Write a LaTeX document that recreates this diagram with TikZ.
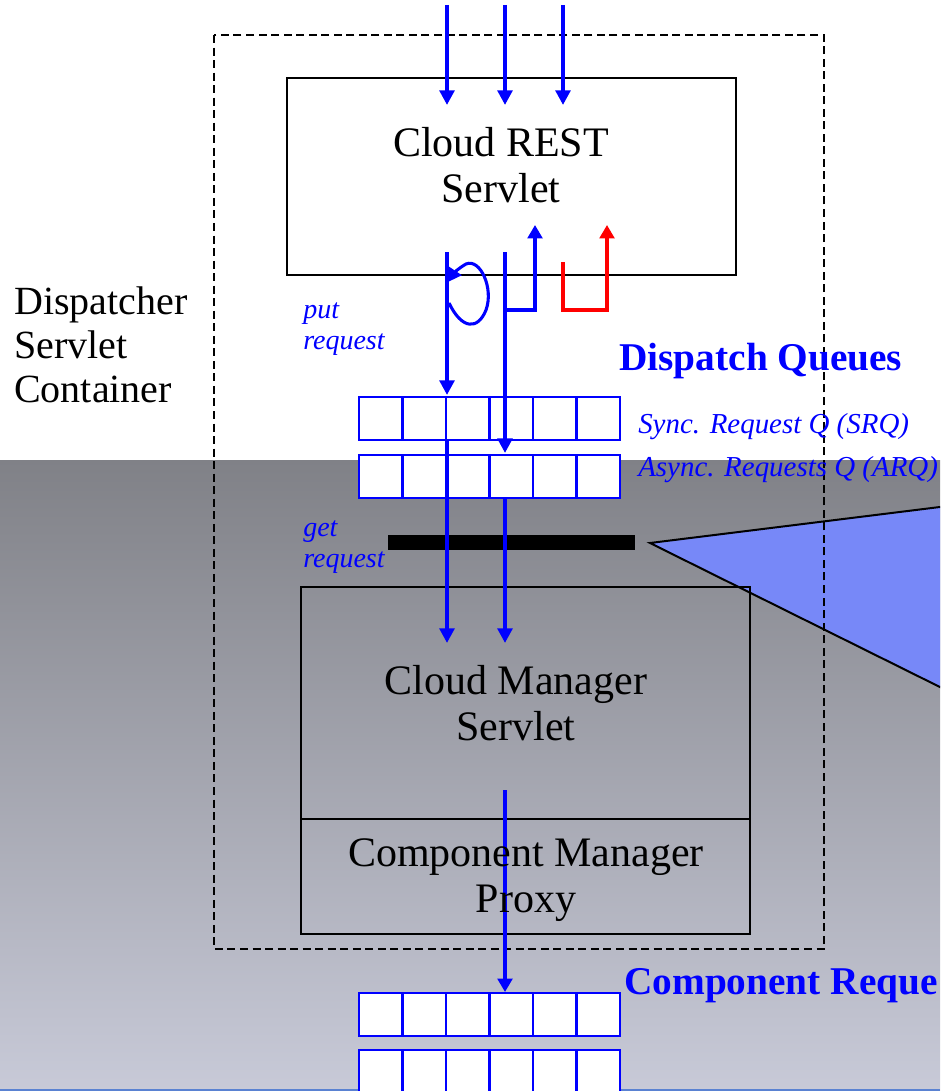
\documentclass[tikz,border=0pt]{standalone}
\usepackage{fontspec}
\setmainfont{Liberation Serif}
\usetikzlibrary{arrows.meta,calc}
\definecolor{qblue}{RGB}{0,0,255}
\definecolor{qred}{RGB}{255,0,0}
\definecolor{callout}{RGB}{119,136,248}
\definecolor{bgtop}{RGB}{128,129,135}
\definecolor{bgbot}{RGB}{200,202,216}
\definecolor{edgeblue}{RGB}{90,130,210}
\begin{document}
\begin{tikzpicture}[x=0.75pt,y=-0.75pt,
  boxstyle/.style={draw=black,line width=1.5pt,inner sep=0pt,outer sep=0pt,anchor=north west},
  cell/.style={draw=qblue,fill=white,line width=1.5pt,inner sep=0pt,outer sep=0pt,minimum width=32.6pt,minimum height=32.25pt},
  bigtext/.style={font=\fontsize{31.5}{34.5}\selectfont,align=center,inner sep=0pt},
  sidetext/.style={font=\fontsize{30}{33}\selectfont,align=left,inner sep=0pt,anchor=west},
  itlabel/.style={font=\fontsize{21}{23.5}\selectfont\itshape,text=qblue,align=left,inner sep=0pt,anchor=west},
  qlabel/.style={font=\fontsize{21.7}{24}\selectfont\itshape,text=qblue,inner sep=0pt,anchor=west},
  boldlabel/.style={font=\fontsize{29.5}{32}\selectfont\bfseries,text=qblue,inner sep=0pt,anchor=west},
  flow/.style={draw=qblue,line width=3pt,-{Triangle[length=11pt,width=11pt]}},
  thinflow/.style={draw=qblue,line width=2.3pt,-{Triangle[length=10pt,width=11pt]}},
  redflow/.style={draw=qred,line width=2.3pt,-{Triangle[length=10pt,width=11pt]}}
]
\useasboundingbox (0,0) rectangle (940,1091);
\begin{scope}
\clip (0,0) rectangle (940,1091);
% background
\fill[white] (0,0) rectangle (940,460);
\shade[top color=bgtop,bottom color=bgbot] (0,460) rectangle (940,1091);
\draw[edgeblue,line width=1pt] (0,1090) -- (940,1090);

% callout triangle
\draw[fill=callout,line width=1.5pt,line join=miter] (960,504.5) -- (650,543) -- (960,697);

% container
\draw[black,line width=1.5pt,dash pattern=on 6pt off 3.4pt] (214,35) rectangle (824,949);

% boxes
\node[boxstyle,minimum width=336.75pt,minimum height=147.75pt] (rest) at (287,78) {};
\node[boxstyle,minimum width=336.75pt,minimum height=174pt] (cms) at (301,587) {};
\node[boxstyle,minimum width=336.75pt,minimum height=86.25pt] (cmp) at (301,819) {};

% queues
\foreach \i in {0,...,5}{
  \node[cell] (srq\i) at ({380.75+43.5*\i},418.5) {};
  \node[cell] (arq\i) at ({380.75+43.5*\i},476.5) {};
  \node[cell] (cq\i) at ({380.75+43.5*\i},1014.5) {};
  \node[cell] (cr\i) at ({380.75+43.5*\i},1071.5) {};
}

% get request bar
\node[fill=black,inner sep=0pt,minimum width=185.25pt,minimum height=11.25pt,anchor=north west] (bar) at (388,535) {};

% coordinates
\coordinate (in1) at (447,5);
\coordinate (in2) at (505,5);
\coordinate (in3) at (563,5);
\coordinate (e1) at (447,105);
\coordinate (e2) at (505,105);
\coordinate (e3) at (563,105);
\coordinate (p1) at (447,252);
\coordinate (p2) at (505,252);
\coordinate (s1) at (447,395);
\coordinate (s2) at (505,453);
\coordinate (g1) at (447,440);
\coordinate (g2) at (505,498);
\coordinate (m1) at (447,643);
\coordinate (m2) at (505,643);
\coordinate (br) at (505,310);
\coordinate (bu) at (535,225);
\coordinate (r0) at (563,262);
\coordinate (ru) at (607,225);
\coordinate (c0) at (505,790);
\coordinate (c1) at (505,992);

% incoming arrows
\draw[flow] (in1) -- (e1);
\draw[flow] (in2) -- (e2);
\draw[flow] (in3) -- (e3);

% put request
\draw[flow] (p1) -- (s1);
\draw[flow] (p2) -- (s2);
\draw[thinflow] (br) -- (535,310) -- (bu);
\draw[redflow] (r0) -- (563,310) -- (607,310) -- (ru);
\draw[thinflow] (449,303) .. controls (462,330) and (478,330) .. (486,310)
  .. controls (494,288) and (480,258) .. (466,264)
  .. controls (459,268) and (454,273) .. (448,282);

% get request
\draw[flow] (g1) -- (m1);
\draw[flow] (g2) -- (m2);

% to component queues
\draw[thinflow] (c0) -- (c1);

% texts
\node[bigtext] (restlabel) at (501,165) {Cloud REST\\Servlet};
\node[bigtext] (cmslabel) at (516,703) {Cloud Manager\\Servlet};
\node[bigtext] (cmplabel) at (526,880) {Component Manager\\Proxy};
\node[sidetext] (container) at (14,345) {Dispatcher\\Servlet\\Container};
\node[itlabel] (putlbl) at (303,329) {put\\request};
\node[itlabel] (getlbl) at (303,547) {get\\request};
\node[boldlabel] (dq) at (619,361) {Dispatch Queues};
\node[qlabel] (srqlbl) at (638,427) {Sync. Request Q (SRQ)};
\node[qlabel] (arqlbl) at (638,470) {Async. Requests Q (ARQ)};
\node[boldlabel] (crq) at (624,986) {Component Reque};
\end{scope}
\end{tikzpicture}
\end{document}
